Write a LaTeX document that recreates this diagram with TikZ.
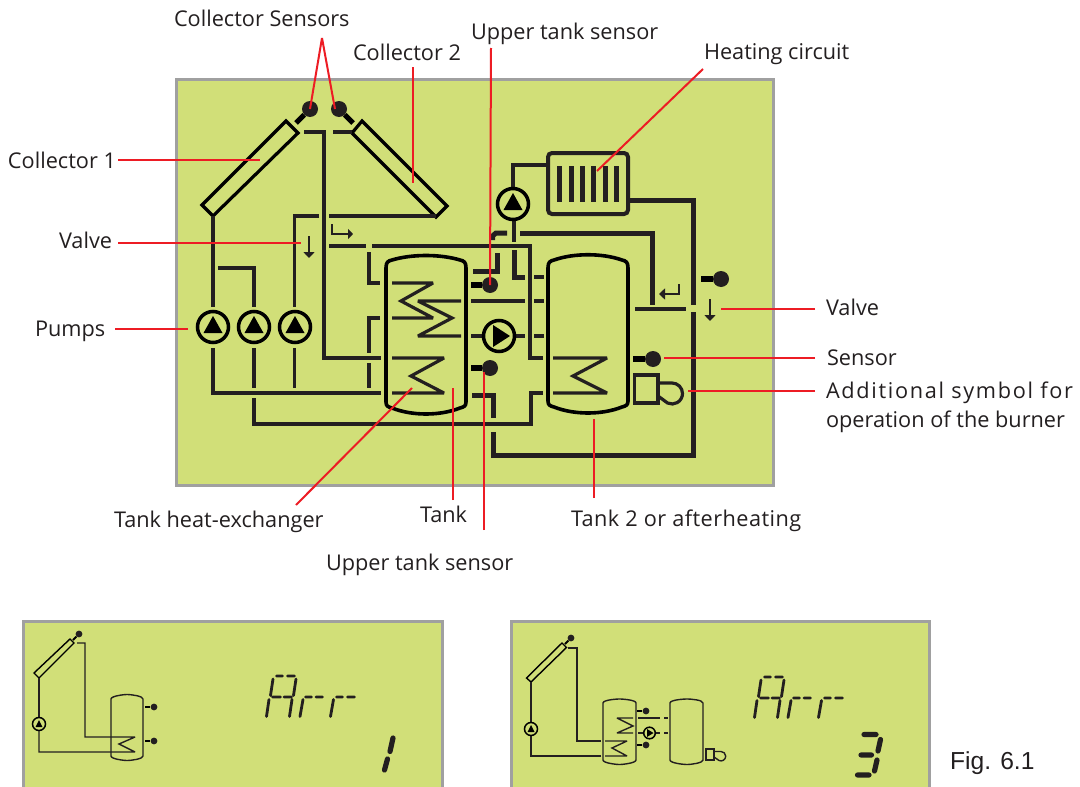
\documentclass[tikz,border=0pt]{standalone}
\usepackage{fontspec}
\setmainfont{Open Sans}
\newfontfamily\figfont{Liberation Sans}
\usetikzlibrary{arrows.meta}
\definecolor{lcd}{HTML}{D1DF78}
\definecolor{frame}{HTML}{A0A0A0}
\definecolor{ink}{HTML}{231F20}
\definecolor{leadred}{HTML}{ED1C24}
\tikzset{
  panel/.style={fill=lcd,draw=frame,line width=3pt},
  pipe/.style={draw=ink,line width=3.2pt,miter limit=10},
  coil/.style={draw=ink,line width=3.2pt,miter limit=3},
  hpipe/.style={draw=ink,line width=5pt},
  tank/.style={draw=black,line width=3.6pt},
  thinpipe/.style={draw=ink,line width=1.4pt,miter limit=3},
  tinytank/.style={draw=ink,line width=1.4pt},
  leader/.style={draw=leadred,line width=2pt},
  lab/.style={anchor=base west,inner sep=0pt,outer sep=0pt,text=ink,font=\fontsize{21.7}{24}\selectfont},
  seg/.style={draw=ink,line width=2.8pt,line cap=round},
  bigseg/.style={draw=ink,line width=5.2pt,line cap=round},
  stub/.style={draw=black,line width=6.5pt},
  dot/.style={circle,fill=ink,inner sep=0pt,minimum size=16pt},
  tinydot/.style={circle,fill=ink,inner sep=0pt,minimum size=6.8pt},
  ring/.style={draw=black,line width=3.5pt,fill=none},
  tinyring/.style={draw=black,line width=1.5pt,fill=none},
  flow/.style={draw=ink,line width=2.4pt,-{Stealth[length=6pt,width=11pt,inset=0pt]}},
}
\newcommand{\arrword}{%
  \draw[seg] (276.5,676) -- (282.5,676) (287.5,676) -- (294.5,676)
    (273,679) -- (270.5,695.5) (269,699.5) -- (266.5,716.5)
    (296,679) -- (293.5,695.5) (292,699.5) -- (289.5,716.5)
    (272.5,697) -- (280.5,697) (284,697) -- (291.5,697);
  \draw[seg] (303,699.5) -- (300,716.5) (305.5,697) -- (311.5,697) (316,697) -- (322.5,697);
  \draw[seg] (333.5,699.5) -- (330.5,716.5) (336.5,697) -- (342.5,697) (347.5,697) -- (354.5,697);
}
\begin{document}
\begin{tikzpicture}[x=1pt,y=-1pt]
\useasboundingbox (0,0) rectangle (1080,787);
\fill[white] (0,0) rectangle (1080,787);
\begin{scope}
\clip (0,0) rectangle (1080,787);
% ---------- panels
\path[panel] (176,79) rectangle (773,485);
\path[panel] (23.5,621.5) rectangle (442,800);
\path[panel] (511,621.5) rectangle (929.5,800);
\end{scope}

% ---------- main schematic: collectors
\draw[draw=black,line width=3.2pt,miter limit=10] (286,121) -- (298,133) -- (213,216) -- (202,205) -- cycle;
\draw[draw=black,line width=3.2pt,miter limit=10] (362,121) -- (447,206) -- (436,217) -- (352,133) -- cycle;
\node[dot] (s1) at (310,109) {};
\node[dot] (s2) at (339,109) {};
\draw[draw=black,line width=5pt] (s1) -- (296,123);
\draw[draw=black,line width=5pt] (s2) -- (353,123);

% ---------- pipes
\draw[pipe] (304,132) -- (324,132) -- (324,358) -- (381,358);
\draw[pipe] (333,132) -- (352,132);
\draw[pipe] (213,216) -- (213,307);
\draw[pipe] (218,268) -- (254,268) -- (254,307);
\draw[pipe] (319,216) -- (294.5,216) -- (294.5,307);
\draw[pipe] (329,216) -- (436,216);
\draw[pipe] (213,348) -- (213,393) -- (381,393);
\draw[pipe] (254,348) -- (254,388);
\draw[pipe] (254,398) -- (254,424) -- (531,424) -- (531,393) -- (543,393);
\draw[pipe] (294.5,348) -- (294.5,388);
\draw[pipe] (329,246) -- (366,246);
\draw[pipe] (372,246) -- (530,246) -- (530,358) -- (543,358);
\draw[pipe] (369,252) -- (369,283) -- (380,283);
\draw[pipe] (380,318) -- (369,318) -- (369,353);
\draw[pipe] (369,363) -- (369,388);
\draw[flow] (309,236) -- (309,258);
\draw[draw=ink,line width=2.2pt,-{Stealth[length=5pt,width=10pt,inset=0pt]}] (332,224) -- (332,234) -- (353,234);

% ---------- tank 1
\draw[tank] (386,268) .. controls (386,262) and (388,261) .. (392,260) .. controls (412,254) and (440,254) .. (460,260) .. controls (464,261) and (466,262) .. (466,268) -- (466,402) .. controls (466,406) and (464,407) .. (460,408) .. controls (440,416) and (412,416) .. (392,408) .. controls (388,407) and (386,406) .. (386,402) -- cycle;
\draw[coil] (392,283) -- (433,283) -- (401,301) -- (433,318) -- (392,318);
\draw[coil] (461,301) -- (418,301) -- (452,318) -- (418,336) -- (461,336);
\draw[coil] (392,358) -- (444,358) -- (411,376) -- (444,393) -- (392,393);

% ---------- right of tank 1
\node[dot] (s3) at (490,285) {};
\draw[stub] (471,285) -- (s3);
\node[dot] (s4) at (490,368) {};
\draw[stub] (471,368) -- (s4);
\draw[pipe] (471,301) -- (525,301);
\draw[pipe] (534,301) -- (544,301);
\draw[pipe] (471,336) -- (482,336);
\draw[pipe] (516,336) -- (525,336);
\draw[pipe] (534,336) -- (544,336);
\draw[pipe] (534,277) -- (544,277);
\draw[hpipe] (473,271) -- (497,271) -- (497,253);
\draw[hpipe] (514,250) -- (514,277) -- (525,277);
\draw[hpipe] (492.5,240) -- (492.5,236) -- (496,233) -- (507,233);
\draw[pipe,line width=3.6pt] (514,221) -- (514,242);
\draw[hpipe] (520,233) -- (652,233) -- (652,305);
\draw[pipe] (513,187) -- (513,165) -- (547,165);

% ---------- radiator
\draw[draw=ink,line width=4pt,rounded corners=4pt] (548,153) rectangle (628,214);
\foreach \bx in {559,571,582,593,605,616}{\draw[draw=ink,line width=5pt] (\bx,166) -- (\bx,202);}
\draw[hpipe] (628,200) -- (693,200) -- (693,305);
\draw[hpipe] (693,312) -- (693,455) -- (493,455) -- (493,432);
\draw[hpipe] (472,395) -- (493,395) -- (493,418);
\draw[pipe,line width=3.6pt] (635,309) -- (686,309);
\draw[draw=ink,line width=2.4pt,-{Stealth[length=6pt,width=11pt,inset=0pt]}] (679,284) -- (679,294) -- (659,294);
\node[dot] (s5) at (721,279) {};
\draw[stub] (701,279) -- (s5);
\draw[flow] (710,299) -- (710,321);

% ---------- tank 2
\draw[tank] (548,268) .. controls (548,262) and (550,261) .. (554,260) .. controls (574,253) and (602,253) .. (622,260) .. controls (626,261) and (628,262) .. (628,268) -- (628,401) .. controls (628,405) and (626,406) .. (622,407) .. controls (602,415) and (574,415) .. (554,407) .. controls (550,406) and (548,405) .. (548,401) -- cycle;
\draw[coil] (553,358) -- (607,358) -- (573,376) -- (607,393) -- (553,393);
\node[dot] (s6) at (653,359) {};
\draw[stub] (633,359) -- (s6);
\draw[draw=ink,line width=3.2pt] (634.5,375) rectangle (658,403);
\draw[draw=ink,line width=3.2pt] (658,383) -- (672,383) arc[start angle=-90,end angle=115,radius=10.5] -- (658,396);

% ---------- pumps
\foreach \px in {213,254,295}{
  \draw[ring] (\px,327) circle[radius=15.5];
  \fill[black] (\px,316) -- (\px+9.5,333) -- (\px-9.5,333) -- cycle;
}
\draw[ring] (513,204) circle[radius=15.5];
\fill[black] (513,193) -- (522.5,210) -- (503.5,210) -- cycle;
\draw[ring] (499,336) circle[radius=15.5];
\fill[black] (493,325) -- (510,336) -- (493,347) -- cycle;

% ---------- labels
\node[lab] (l1) at (174,27) {Collector Sensors};
\node[lab] (l2) at (471,39) {Upper tank sensor};
\node[lab] (l3) at (353,60) {Collector 2};
\node[lab] (l4) at (704,59) {Heating circuit};
\node[lab] (l5) at (8,168) {Collector 1};
\node[lab] (l6) at (59,248) {Valve};
\node[lab] (l7) at (35,336) {Pumps};
\node[lab] (l8) at (826,315) {Valve};
\node[lab] (l9) at (827,365) {Sensor};
\node[lab] (l10) at (826,398) {\addfontfeature{LetterSpace=7.7}Additional symbol for};
\node[lab] (l11) at (826,427) {operation of the burner};
\node[lab] (l12) at (114,527) {Tank heat-exchanger};
\node[lab] (l13) at (420,522) {Tank};
\node[lab] (l14) at (571,526) {\addfontfeature{LetterSpace=2}Tank 2 or afterheating};
\node[lab] (l15) at (326,570) {Upper tank sensor};
\node[anchor=base west,inner sep=0pt,text=ink,font=\figfont\fontsize{24.6}{28}\selectfont] (fig) at (950,769) {Fig. 6.1};

% ---------- leaders
\coordinate (a1) at (322,38);
\draw[leader] (a1) -- (s1.center);
\draw[leader] (a1) -- (335,109);
\draw[leader] (413,67) -- (413,183);
\draw[leader] (491,48) -- (s3.center);
\draw[leader] (703,69) -- (597,171);
\draw[leader] (118,160) -- (260,160);
\draw[leader] (118,243) -- (301,243);
\draw[leader] (115,329) -- (188,329);
\draw[leader] (815,309) -- (721,309);
\draw[leader] (815,358) -- (664,358);
\draw[leader] (815,391) -- (688,391);
\draw[leader] (296,505) -- (412,388);
\draw[leader] (453,500) -- (453,388);
\draw[leader] (593.5,498) -- (593.5,419);
\draw[leader] (483.5,530) -- (483.5,372);

% ---------- lower left display
\draw[draw=black,line width=1.4pt] (70,639) -- (74,643) -- (39,678) -- (34,673) -- cycle;
\node[tinydot] (t1) at (79,634) {};
\draw[draw=black,line width=1.8pt] (t1) -- (73,640);
\draw[thinpipe] (77,643) -- (85,643) -- (85,737) -- (135,737) -- (119,744) -- (135,752) -- (39,752) -- (39,731);
\draw[thinpipe] (39,717) -- (39,678);
\draw[tinyring] (39,724) circle[radius=6.5];
\fill[black] (39,720) -- (42.5,727) -- (35.5,727) -- cycle;
\draw[tinytank] (111,699) .. controls (111,696) and (124,694.5) .. (127,694.5) .. controls (131,694.5) and (143,696) .. (143,699) -- (143,756) .. controls (143,759) and (131,760.5) .. (127,760.5) .. controls (124,760.5) and (111,759) .. (111,756) -- cycle;
\node[tinydot] (t2) at (154,707) {};
\draw[draw=black,line width=2.2pt] (145,707) -- (t2);
\node[tinydot] (t3) at (154,741) {};
\draw[draw=black,line width=2.2pt] (145,741) -- (t3);
% Arr 1
\arrword
\draw[bigseg] (393,738) -- (390,751.5) (387.5,759) -- (384.5,770);

% ---------- lower right display
\draw[draw=black,line width=1.4pt] (562,643) -- (566.5,647.5) -- (531,682) -- (526.5,678) -- cycle;
\node[tinydot] (u1) at (571,638) {};
\draw[draw=black,line width=1.8pt] (u1) -- (565,644);
\draw[thinpipe] (568,648) -- (577,648) -- (577,741) -- (601,741);
\draw[thinpipe] (605,741) -- (627,741) -- (612,748) -- (627,756) -- (605,756);
\draw[thinpipe] (601,756) -- (531,756) -- (531,736);
\draw[thinpipe] (531,722) -- (531,682);
\draw[tinyring] (531,729) circle[radius=6.5];
\fill[black] (531,725) -- (534.5,732) -- (527.5,732) -- cycle;
\draw[tinytank] (603,703) .. controls (603,700) and (616,699) .. (619.5,699) .. controls (623,699) and (636,700) .. (636,703) -- (636,760) .. controls (636,763) and (623,764.5) .. (619.5,764.5) .. controls (616,764.5) and (603,763) .. (603,760) -- cycle;
\draw[thinpipe] (633,718) -- (617,718) -- (633,726) -- (617,733) -- (633,733);
\draw[thinpipe] (638,718) -- (660,718);
\draw[thinpipe] (664,718) -- (668,718);
\draw[thinpipe] (638,733) -- (643,733);
\draw[thinpipe] (656,733) -- (660,733);
\draw[thinpipe] (664,733) -- (668,733);
\draw[tinyring] (649.5,733) circle[radius=5.8];
\fill[black] (647,729) -- (653.5,733) -- (647,737) -- cycle;
\node[tinydot] (u2) at (646,711) {};
\draw[draw=black,line width=2.2pt] (637,711) -- (u2);
\node[tinydot] (u3) at (646,745) {};
\draw[draw=black,line width=2.2pt] (637,745) -- (u3);
\draw[tinytank] (670,703) .. controls (670,700) and (683,699) .. (687,699) .. controls (691,699) and (703,700) .. (703,703) -- (703,760) .. controls (703,763) and (691,764.5) .. (687,764.5) .. controls (683,764.5) and (670,763) .. (670,760) -- cycle;
\draw[thinpipe] (706,749) rectangle (714,760);
\draw[thinpipe] (714,751.5) -- (721,751.5) arc[start angle=-90,end angle=115,radius=4.7] -- (714,757);
% Arr 3
\begin{scope}[shift={(488,1)}]
\arrword
\end{scope}
\draw[bigseg] (864,734.5) -- (876,734.5) (861,755) -- (871.5,755) (857.5,775) -- (869,775) (880.5,739.5) -- (878,751) (877,760) -- (874.5,771);
\end{tikzpicture}
\end{document}
